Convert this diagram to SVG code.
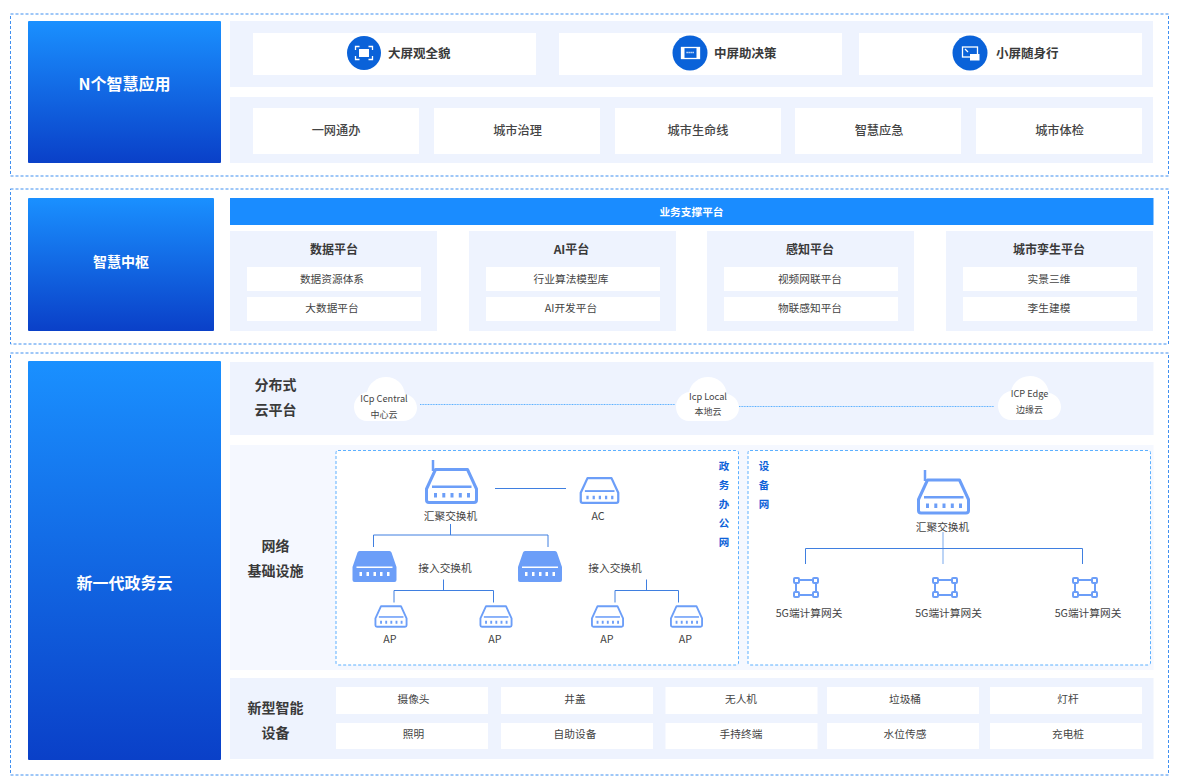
<svg xmlns="http://www.w3.org/2000/svg" width="1179" height="783" viewBox="0 0 1179 783">
<style>
text{font-family:"Noto Sans CJK SC","Noto Sans",sans-serif;fill:#444;text-anchor:middle}
.outer{fill:#fff;stroke:#3f8ff0;stroke-width:1;stroke-dasharray:3 2}
.side{fill:url(#g)}
.side-t{fill:#fff;font-size:16px;font-weight:700}
.panel{fill:#eef3fe}
.soft{fill:#f5f8ff}
.card{fill:#fff}
.t12{font-size:12.2px;font-weight:500}
.t13{font-size:12.5px;font-weight:700;text-anchor:start;fill:#3a3a3a}
.t12b{font-size:12px;font-weight:700;fill:#3a3a3a}
.t11{font-size:10.7px}
.t14{font-size:14px;font-weight:700;fill:#3a3a3a}
.t9{font-size:9px}
.t92{font-size:9.200px}
.blue{font-size:10.5px;font-weight:700;fill:#0d62d8}
.net{fill:#fff;stroke:#5cb0ff;stroke-width:1;stroke-dasharray:3 2}
.wire{fill:none;stroke:#3f7fe0;stroke-width:1}
.wire2{fill:none;stroke:#a6c6f3;stroke-width:1.5}
.dot{fill:none;stroke:#5cb0ff;stroke-width:1;stroke-dasharray:1 .6}
.ic{fill:none;stroke:#6c9ef8;stroke-width:3;stroke-linejoin:round}
.circle{fill:#0a62d9}
.w{fill:#fff}
.wl{fill:none;stroke:#fff;stroke-width:1.3}
</style>
<defs>
<linearGradient id="g" x1="0" y1="0" x2="0" y2="1"><stop offset="0" stop-color="#1a90ff"/><stop offset="1" stop-color="#0a40c8"/></linearGradient>
<symbol id="sw" viewBox="0 0 53 36" overflow="visible">
<path class="ic" d="M10.500 1.500H42.500L51.500 21V32Q51.500 34.500 49 34.500H4Q1.500 34.500 1.500 32V21Z"/>
<path d="M7 17.500H46.500V20H7Z" fill="#6c9ef8"/>
<path d="M9 25H12V29.500H9ZM17.300 25H20.300V29.500H17.300ZM25.500 25H28.500V29.500H25.500ZM33.800 25H36.800V29.500H33.800ZM42 25H45V29.500H42Z" fill="#6c9ef8"/>
</symbol>
<symbol id="swf" viewBox="0 0 44 31" overflow="visible">
<path d="M7 0H37Q38.500 0 39 1.500L44 16V29Q44 31 42 31H2Q0 31 0 29V16L5 1.500Q5.500 0 7 0Z" fill="#6c9ef8"/>
<path d="M4 15.500H40V17H4Z" fill="#fff"/>
<path d="M7 21H9.500V25H7ZM14 21H16.500V25H14ZM21 21H23.500V25H21ZM27.500 21H30V25H27.500ZM34.500 21H37V25H34.500Z" fill="#fff"/>
</symbol>
<symbol id="gw" viewBox="0 0 26 21" overflow="visible">
<rect x="3" y="3" width="20" height="15" fill="none" stroke="#6c9ef8" stroke-width="2"/>
<g fill="#fff" stroke="#6c9ef8" stroke-width="2"><rect x="1" y="1" width="5" height="5" rx="1"/><rect x="20" y="1" width="5" height="5" rx="1"/><rect x="1" y="15" width="5" height="5" rx="1"/><rect x="20" y="15" width="5" height="5" rx="1"/></g>
</symbol>
<path id="cloud" fill="#fff" d="M13 44C5 44 0 37 0 30C0 22 6 16 13 15C15 6 23 0 32 0C42 0 50 7 51 17C58 18 63 24 63 31C63 38 57 44 49 44Z"/>
</defs>
<rect width="1179" height="783" fill="#fff"/>

<g id="section-apps">
<rect class="outer" x="10.500" y="14" width="1158" height="162"/>
<rect class="side" x="28" y="21" width="193" height="142" rx="1"/>
<text class="side-t" x="124.500" y="90">N个智慧应用</text>
<rect class="panel" x="230" y="21" width="923" height="66"/>
<rect class="panel" x="230" y="97" width="923" height="66"/>
</g>
<g id="screen-large">
<rect class="card" x="253" y="33" width="283" height="42"/>
<circle class="circle" cx="364" cy="53" r="17"/>
<path class="wl" d="M355.500 50V46.500H359.500M368.500 46.500H372.500V50M355.500 56V59.500H359.500M368.500 59.500H372.500V56"/>
<rect class="w" x="359" y="49" width="10" height="8"/>
<text class="t13" x="388" y="57.500">大屏观全貌</text>
</g>
<g id="screen-medium">
<rect class="card" x="559" y="33" width="283" height="42"/>
<circle class="circle" cx="690" cy="53" r="17.500"/>
<rect class="wl" x="681.500" y="47.500" width="18" height="11"/>
<rect class="w" x="681" y="47" width="3.500" height="12"/>
<rect class="w" x="696.500" y="47" width="3.500" height="12"/>
<path d="M686.500 52.500H694.500" stroke="#fff" stroke-width="1.500" stroke-dasharray="1.200 .8"/>
<text class="t13" x="714" y="57.500">中屏助决策</text>
</g>
<g id="screen-small">
<rect class="card" x="859" y="33" width="283" height="42"/>
<circle class="circle" cx="970" cy="53" r="17.500"/>
<rect class="wl" x="962.500" y="47" width="15" height="10"/>
<rect class="w" x="970" y="54" width="9.500" height="6.500"/>
<path class="wl" d="M965 49L968 52"/>
<text class="t13" x="996" y="57.500">小屏随身行</text>
</g>
<g id="app-row">
<rect class="card" x="253" y="108" width="166" height="46"/><text class="t12" x="336" y="135">一网通办</text>
<rect class="card" x="434" y="108" width="166" height="46"/><text class="t12" x="517.500" y="135">城市治理</text>
<rect class="card" x="615" y="108" width="166" height="46"/><text class="t12" x="698" y="135">城市生命线</text>
<rect class="card" x="795" y="108" width="166" height="46"/><text class="t12" x="879" y="135">智慧应急</text>
<rect class="card" x="976" y="108" width="166" height="46"/><text class="t12" x="1059.500" y="135">城市体检</text>
</g>

<g id="section-hub">
<rect class="outer" x="10.500" y="189" width="1158" height="155"/>
<rect class="side" x="28" y="198" width="186" height="133" rx="1"/>
<text class="side-t" x="121" y="267" style="font-size:14px">智慧中枢</text>
<rect x="230" y="198" width="923.500" height="27" fill="#1a8cff"/>
<text x="691.500" y="216" style="font-size:10.700px;font-weight:700;fill:#fff">业务支撑平台</text>
</g>
<g id="data-platform">
<rect class="panel" x="230" y="231" width="207" height="100"/>
<text class="t12b" x="334" y="254">数据平台</text>
<rect class="card" x="247" y="267" width="174" height="24"/><text class="t11" x="332" y="283">数据资源体系</text>
<rect class="card" x="247" y="297" width="174" height="24"/><text class="t11" x="332" y="312">大数据平台</text>
</g>
<g id="ai-platform">
<rect class="panel" x="469" y="231" width="207" height="100"/>
<text class="t12b" x="571.500" y="254">AI平台</text>
<rect class="card" x="486" y="267" width="174" height="24"/><text class="t11" x="571" y="283">行业算法模型库</text>
<rect class="card" x="486" y="297" width="174" height="24"/><text class="t11" x="571" y="312">AI开发平台</text>
</g>
<g id="sense-platform">
<rect class="panel" x="707" y="231" width="207" height="100"/>
<text class="t12b" x="810" y="254">感知平台</text>
<rect class="card" x="724" y="267" width="174" height="24"/><text class="t11" x="810" y="283">视频网联平台</text>
<rect class="card" x="724" y="297" width="174" height="24"/><text class="t11" x="810" y="312">物联感知平台</text>
</g>
<g id="twin-platform">
<rect class="panel" x="946" y="231" width="207" height="100"/>
<text class="t12b" x="1049" y="254">城市孪生平台</text>
<rect class="card" x="963" y="267" width="174" height="24"/><text class="t11" x="1049" y="283">实景三维</text>
<rect class="card" x="963" y="297" width="174" height="24"/><text class="t11" x="1049" y="312">李生建模</text>
</g>

<g id="section-cloud">
<rect class="outer" x="10.500" y="353" width="1158" height="422"/>
<rect class="side" x="28" y="361" width="193" height="399" rx="1"/>
<text class="side-t" x="124.500" y="589">新一代政务云</text>
<rect class="panel" x="230" y="362" width="923.500" height="73"/>
<text class="t14" x="275.500" y="390">分布式</text>
<text class="t14" x="275.500" y="415">云平台</text>
<rect class="soft" x="230" y="445" width="923.500" height="225"/>
<text class="t14" x="275.500" y="551">网络</text>
<text class="t14" x="275.500" y="576">基础设施</text>
<rect class="panel" x="230" y="678" width="923.500" height="81"/>
<text class="t14" x="275.500" y="713">新型智能</text>
<text class="t14" x="275.500" y="738">设备</text>
<rect class="net" x="336" y="450.500" width="402.500" height="214.500" rx="2"/>
<rect class="net" x="748" y="450.500" width="402.500" height="214.500" rx="2"/>
<text class="blue" x="724" y="470">政</text><text class="blue" x="724" y="489">务</text><text class="blue" x="724" y="508">办</text><text class="blue" x="724" y="527">公</text><text class="blue" x="724" y="546">网</text>
<text class="blue" x="764" y="470">设</text><text class="blue" x="764" y="489">备</text><text class="blue" x="764" y="508">网</text>
</g>

<g id="connectors">
<path class="dot" d="M420 404.500H675"/>
<path class="dot" d="M739 406.500H994"/>
<path class="wire" d="M495 488.500H566"/>
<path class="wire" d="M450.500 524V535M373.500 547V535H548V547"/>
<path class="wire" d="M443.500 579.500V590.500M394 602.500V590.500H493.500V602.500"/>
<path class="wire" d="M646.500 579.500V590.500M615 602.500V590.500H678.500V602.500"/>
<path class="wire2" d="M943 532V564"/>
<path class="wire" d="M805.500 564V548.500H1082.500V564"/>
</g>

<g id="cloud-central"><use href="#cloud" x="354" y="377"/><text x="384" y="402" class="t92">ICp Central</text><text x="384" y="418" class="t9">中心云</text></g>
<g id="cloud-local"><use href="#cloud" x="676" y="377"/><text x="708" y="399.500" class="t92">Icp Local</text><text x="708" y="415" class="t9">本地云</text></g>
<g id="cloud-edge"><use href="#cloud" x="998" y="376"/><text x="1029.500" y="397" class="t92">ICP Edge</text><text x="1029.500" y="413" class="t9">边缘云</text></g>

<g id="agg-switch-1"><path d="M433 460V471" stroke="#6c9ef8" stroke-width="2.500"/><use href="#sw" x="425" y="468" width="53" height="36"/><text class="t11" x="450.500" y="520">汇聚交换机</text></g>
<g id="ac"><use href="#sw" x="579.500" y="477" width="40" height="27"/><text class="t11" x="598" y="520">AC</text></g>
<g id="access-switch-1"><use href="#swf" x="352.500" y="551" width="44" height="31"/><text class="t11" x="445" y="572">接入交换机</text></g>
<g id="access-switch-2"><use href="#swf" x="518" y="551" width="44" height="31"/><text class="t11" x="615" y="572">接入交换机</text></g>
<g id="ap-1"><use href="#sw" x="374.500" y="605" width="33" height="23"/><text class="t11" x="390" y="643">AP</text></g>
<g id="ap-2"><use href="#sw" x="479.500" y="605" width="33" height="23"/><text class="t11" x="495" y="643">AP</text></g>
<g id="ap-3"><use href="#sw" x="591" y="605" width="33" height="23"/><text class="t11" x="607" y="643">AP</text></g>
<g id="ap-4"><use href="#sw" x="670" y="605" width="33" height="23"/><text class="t11" x="685.500" y="643">AP</text></g>

<g id="agg-switch-2"><path d="M925 470V481" stroke="#6c9ef8" stroke-width="2.500"/><use href="#sw" x="917" y="478" width="53" height="37"/><text class="t11" x="942.500" y="531">汇聚交换机</text></g>
<g id="gw-1"><use href="#gw" x="793" y="577" width="26" height="21"/><text class="t11" x="809" y="617">5G端计算网关</text></g>
<g id="gw-2"><use href="#gw" x="932" y="577" width="26" height="21"/><text class="t11" x="948.500" y="617">5G端计算网关</text></g>
<g id="gw-3"><use href="#gw" x="1072" y="577" width="26" height="21"/><text class="t11" x="1088" y="617">5G端计算网关</text></g>

<g id="devices">
<rect class="card" x="336" y="687" width="152" height="27"/><text class="t11" x="413.500" y="703">摄像头</text>
<rect class="card" x="501" y="687" width="152" height="27"/><text class="t11" x="575" y="703">井盖</text>
<rect class="card" x="665.500" y="687" width="152" height="27"/><text class="t11" x="741" y="703">无人机</text>
<rect class="card" x="827" y="687" width="152" height="27"/><text class="t11" x="905" y="703">垃圾桶</text>
<rect class="card" x="990" y="687" width="152" height="27"/><text class="t11" x="1068" y="703">灯杆</text>
<rect class="card" x="336" y="723" width="152" height="26"/><text class="t11" x="413.500" y="738">照明</text>
<rect class="card" x="501" y="723" width="152" height="26"/><text class="t11" x="575" y="738">自助设备</text>
<rect class="card" x="665.500" y="723" width="152" height="26"/><text class="t11" x="741" y="738">手持终端</text>
<rect class="card" x="827" y="723" width="152" height="26"/><text class="t11" x="905" y="738">水位传感</text>
<rect class="card" x="990" y="723" width="152" height="26"/><text class="t11" x="1068" y="738">充电桩</text>
</g>
</svg>
